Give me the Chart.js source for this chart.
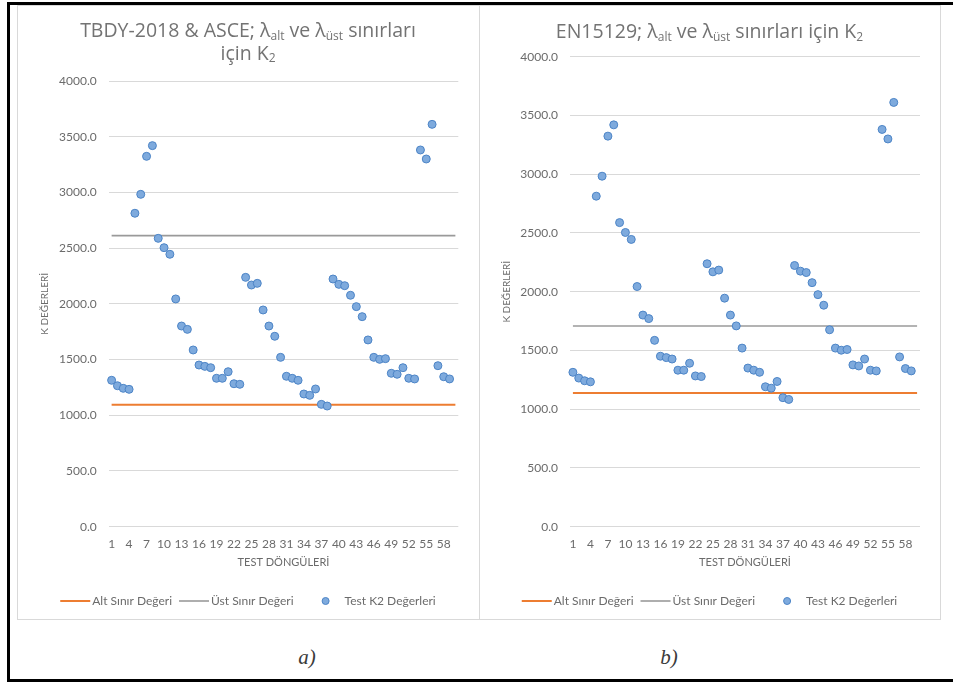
<!DOCTYPE html>
<html>
<head>
<meta charset="utf-8">
<title>K2 değerleri</title>
<script src="https://cdn.jsdelivr.net/npm/chart.js@4.4.1/dist/chart.umd.min.js"></script>
<style>
  html, body { margin: 0; padding: 0; background: #fff; }
  body { width: 953px; height: 682px; overflow: hidden; position: relative; }
  #frame { position: absolute; left: 7px; top: 2px; width: 990px; height: 680px;
           box-sizing: border-box; border: 3px solid #000; border-right: none; }
  .panel { position: absolute; top: 5px; height: 615px; box-sizing: border-box;
           border: 1px solid #d9d9d9; background: #fff; }
  #pa { left: 17px; width: 463px; }
  #pb { left: 479px; width: 462px; }
  canvas { position: absolute; display: block; }
  #ca { left: 18px; top: 6px; }
  #cb { left: 480px; top: 6px; }
  .cap { position: absolute; top: 644px; width: 40px; text-align: center;
         font-family: "Liberation Serif", "DejaVu Serif", serif; font-style: italic;
         font-size: 21px; line-height: 26px; color: #3a3a3a; }
</style>
</head>
<body>
<div id="frame"></div>
<div class="panel" id="pa"></div>
<div class="panel" id="pb"></div>
<canvas id="ca" width="460" height="613"></canvas>
<canvas id="cb" width="459" height="613"></canvas>
<div class="cap" style="left:287px">a)</div>
<div class="cap" style="left:649px">b)</div>

<script>
// Test cycle numbers (category axis)
const cycles = [1, 2, 3, 4, 5, 6, 7, 8, 9, 10, 11, 12, 13, 14, 15, 16, 17, 18, 19, 20,
                21, 22, 23, 24, 25, 26, 27, 28, 29, 30, 31, 32, 33, 34, 35, 36, 37, 38, 39, 40,
                41, 42, 43, 44, 45, 46, 47, 48, 49, 50, 51, 52, 53, 54, 55, 56, 57, 58, 59, 60];

// Cycle numbers printed under the axis
const cycleTicks = [1, 4, 7, 10, 13, 16, 19, 22, 25, 28, 31, 34, 37, 40, 43, 46, 49, 52, 55, 58];

// Measured K2 value for each test cycle
const testK2 = [1314, 1265, 1242, 1233, 2813, 2983, 3324, 3420, 2588, 2504,
                2445, 2044, 1801, 1771, 1586, 1451, 1439, 1427, 1332, 1332,
                1391, 1283, 1278, 2238, 2169, 2184, 1945, 1801, 1709, 1520,
                1350, 1332, 1314, 1191, 1179, 1236, 1098, 1083, 2223, 2175,
                2163, 2077, 1975, 1885, 1676, 1520, 1502, 1508, 1377, 1368,
                1427, 1332, 1326, 3381, 3300, 3611, 1445, 1346, 1326];

// Limit values (lower / upper) for each code
const limitsTBDY = [1095, 2612];
const limitsEN = [1138, 1708];

const seriesNames = ['Alt Sınır Değeri', 'Üst Sınır Değeri', 'Test K2 Değerleri'];
const yTicks = [0, 500, 1000, 1500, 2000, 2500, 3000, 3500, 4000];

const TEXT = '#6b6b6b';
const FONT = 'Lato, "Open Sans", sans-serif';
const TITLE_FONT = '"Open Sans", Lato, sans-serif';

// Title (with subscripts) and legend drawn on the canvas
const panelDecor = {
  id: 'panelDecor',
  afterDraw(chart, args, opts) {
    const ctx = chart.ctx;
    const cx = chart.width / 2;
    ctx.save();
    ctx.fillStyle = opts.color;
    ctx.textBaseline = 'middle';
    ctx.textAlign = 'left';
    const mainF = `${opts.titleSize}px ${TITLE_FONT}`;
    const subF = `${opts.subSize}px ${TITLE_FONT}`;
    opts.titleLines.forEach((segs, li) => {
      let w = 0;
      segs.forEach(s => { ctx.font = s.sub ? subF : mainF; w += ctx.measureText(s.t).width; });
      let x = cx - w / 2;
      const y = opts.titleY[li];
      segs.forEach(s => {
        ctx.font = s.sub ? subF : mainF;
        ctx.fillText(s.t, x, s.sub ? y + opts.subShift : y);
        x += ctx.measureText(s.t).width;
      });
    });

    // legend
    ctx.font = `${opts.legendSize}px ${FONT}`;
    ctx.fillStyle = opts.legendColor;
    const items = chart.data.datasets.map(ds => ({
      text: ds.label,
      line: ds.showLine !== false,
      color: ds.showLine !== false ? ds.borderColor : ds.backgroundColor,
      edge: ds.borderColor,
      width: ds.borderWidth
    }));
    const symW = 30, gap = 2, itemGap = 7, dotLead = 25, dotTail = 19;
    let total = 0;
    items.forEach((it, i) => {
      total += (it.line ? symW + gap : dotLead + dotTail) + ctx.measureText(it.text).width;
      if (i < items.length - 1) total += itemGap;
    });
    let x = cx - total / 2;
    const ly = opts.legendY;
    items.forEach(it => {
      if (it.line) {
        ctx.strokeStyle = it.color;
        ctx.lineWidth = it.width;
        ctx.beginPath();
        ctx.moveTo(x, ly);
        ctx.lineTo(x + symW, ly);
        ctx.stroke();
        x += symW + gap;
      } else {
        ctx.save();
        ctx.fillStyle = it.color;
        ctx.strokeStyle = it.edge;
        ctx.lineWidth = 1;
        ctx.beginPath();
        ctx.arc(x + dotLead, ly, 3.5, 0, Math.PI * 2);
        ctx.fill();
        ctx.stroke();
        ctx.restore();
        x += dotLead + dotTail;
      }
      ctx.fillText(it.text, x, ly);
      x += ctx.measureText(it.text).width + itemGap;
    });
    ctx.restore();
  }
};

function makeChart(canvasId, limits, titleLines, titleY, geom) {
  const first = String(cycles[0]);
  const last = String(cycles[cycles.length - 1]);
  return new Chart(document.getElementById(canvasId), {
    type: 'line',
    data: {
      labels: cycles.map(String),
      datasets: [
        {
          label: seriesNames[0],
          data: [{ x: first, y: limits[0] }, { x: last, y: limits[0] }],
          borderColor: '#ED7D31',
          borderWidth: 2,
          pointRadius: 0,
          order: 2
        },
        {
          label: seriesNames[1],
          data: [{ x: first, y: limits[1] }, { x: last, y: limits[1] }],
          borderColor: '#9a9a9a',
          borderWidth: 1.6,
          pointRadius: 0,
          order: 1
        },
        {
          label: seriesNames[2],
          data: testK2,
          showLine: false,
          pointRadius: 4,
          pointHoverRadius: 4,
          backgroundColor: '#7EAADD',
          borderColor: '#4C84C6',
          borderWidth: 1,
          order: 0
        }
      ]
    },
    options: {
      responsive: false,
      animation: false,
      events: [],
      layout: {
        autoPadding: false,
        padding: { left: 0, right: geom.right, top: geom.top, bottom: geom.bottom }
      },
      plugins: {
        legend: { display: false },
        title: { display: false },
        tooltip: { enabled: false },
        panelDecor: {
          color: '#737373',
          legendColor: '#6b6b6b',
          titleLines: titleLines,
          titleY: titleY,
          titleSize: 19.5,
          subSize: 12,
          subShift: 5,
          legendSize: 12,
          legendY: 595
        }
      },
      scales: {
        x: {
          type: 'category',
          offset: true,
          grid: { display: false, drawTicks: false },
          border: { display: false },
          afterFit: s => { s.height = geom.xHeight; },
          ticks: {
            autoSkip: false,
            maxRotation: 0,
            padding: 10,
            color: TEXT,
            font: { family: FONT, size: 12 },
            callback: function (v) {
              const lab = Number(this.getLabelForValue(v));
              return cycleTicks.includes(lab) ? String(lab) : '';
            }
          },
          title: {
            display: true,
            text: 'TEST DÖNGÜLERİ',
            color: TEXT,
            font: { family: FONT, size: 11 },
            padding: { top: 0, bottom: 0 }
          }
        },
        y: {
          min: yTicks[0],
          max: yTicks[yTicks.length - 1],
          afterFit: s => { s.width = geom.yWidth; },
          afterBuildTicks: s => { s.ticks = yTicks.map(v => ({ value: v })); },
          grid: { color: '#d9d9d9', lineWidth: 1, drawTicks: false },
          border: { display: false },
          ticks: {
            padding: 12,
            color: TEXT,
            font: { family: FONT, size: 12 },
            callback: v => Number(v).toFixed(1)
          },
          title: {
            display: true,
            text: 'K DEĞERLERİ',
            color: TEXT,
            font: { family: FONT, size: 10 },
            padding: { top: 21, bottom: 0 }
          }
        }
      }
    },
    plugins: [panelDecor]
  });
}

makeChart('ca', limitsTBDY,
  [
    [{ t: 'TBDY-2018 & ASCE; λ' }, { t: 'alt', sub: true }, { t: ' ve λ' }, { t: 'üst', sub: true }, { t: ' sınırları' }],
    [{ t: 'için K' }, { t: '2', sub: true }]
  ],
  [25.7, 48],
  { right: 19.7, top: 75, bottom: 49.7, xHeight: 42.6, yWidth: 90.7 });

makeChart('cb', limitsEN,
  [
    [{ t: 'EN15129; λ' }, { t: 'alt', sub: true }, { t: ' ve λ' }, { t: 'üst', sub: true }, { t: ' sınırları için K' }, { t: '2', sub: true }]
  ],
  [26.5],
  { right: 19, top: 50.7, bottom: 49.7, xHeight: 42.6, yWidth: 90 });
</script>
</body>
</html>
